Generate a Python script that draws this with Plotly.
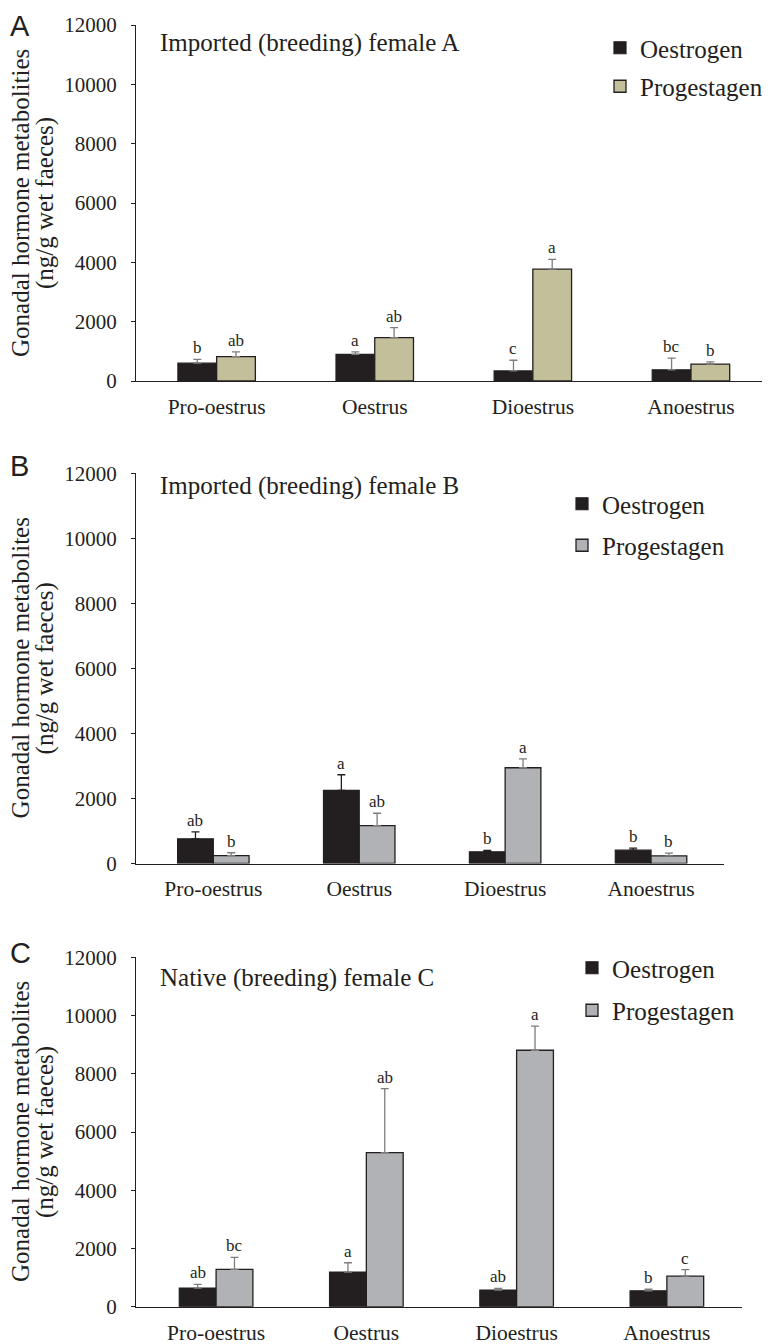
import plotly.graph_objects as go

# ---------------- data ----------------
stages = ["Pro-oestrus", "Oestrus", "Dioestrus", "Anoestrus"]
series_names = ["Oestrogen", "Progestagen"]

# Panel A: Imported (breeding) female A
a_oest = [600, 900, 340, 380]
a_oest_err = [130, 80, 360, 390]
a_prog = [820, 1460, 3770, 570]
a_prog_err = [160, 340, 330, 75]
a_oest_letters = ["b", "a", "c", "bc"]
a_prog_letters = ["ab", "ab", "a", "b"]

# Panel B: Imported (breeding) female B
b_oest = [760, 2250, 360, 410]
b_oest_err = [215, 480, 40, 60]
b_prog = [245, 1165, 2945, 236]
b_prog_err = [85, 380, 270, 80]
b_oest_letters = ["ab", "a", "b", "b"]
b_prog_letters = ["b", "ab", "a", "b"]

# Panel C: Native (breeding) female C
c_oest = [640, 1190, 573, 545]
c_oest_err = [130, 320, 57, 55]
c_prog = [1283, 5290, 8808, 1050]
c_prog_err = [412, 2200, 825, 220]
c_oest_letters = ["ab", "a", "ab", "b"]
c_prog_letters = ["bc", "ab", "a", "c"]

panel_titles = ["Imported (breeding) female A", "Imported (breeding) female B",
                "Native (breeding) female C"]
panel_letters = ["A", "B", "C"]
ytitle_line1 = ["Gonadal hormone metabolities", "Gonadal hormone metabolites",
                "Gonadal hormone metabolites"]
ytitle_line2 = "(ng/g wet faeces)"
y_ticks = [0, 2000, 4000, 6000, 8000, 10000, 12000]

# ---------------- style ----------------
OFF = 8                      # page body margin of the browser
W, H = 770 - OFF, 1344 - OFF
INK = "#231f20"
SERIF = "Liberation Serif"
SANS = "Liberation Sans"
TAN = "#c4bf9b"
GREY = "#b1b2b5"
ERRGREY = "#7d7d7d"
BW = 0.245


def fx(px):
    return (px - OFF) / W


def fy(px):
    return 1 - (px - OFF) / H


panels = [
    dict(oest=a_oest, oerr=a_oest_err, prog=a_prog, perr=a_prog_err,
         ol=a_oest_letters, pl=a_prog_letters, pcol=TAN, oerrcol=ERRGREY,
         xdom=[fx(136), fx(770)], xr=[-0.51, 3.5], ydom=[fy(381), fy(25)],
         leg=dict(x=fx(600), y=fy(25)), gap=3, title_y=43, letter_y=None),
    dict(oest=b_oest, oerr=b_oest_err, prog=b_prog, perr=b_prog_err,
         ol=b_oest_letters, pl=b_prog_letters, pcol=GREY, oerrcol=INK,
         xdom=[fx(136), fx(724)], xr=[-0.53, 3.5], ydom=[fy(863.5), fy(473.3)],
         leg=dict(x=fx(562), y=fy(481)), gap=6, title_y=486, letter_y=466),
    dict(oest=c_oest, oerr=c_oest_err, prog=c_prog, perr=c_prog_err,
         ol=c_oest_letters, pl=c_prog_letters, pcol=GREY, oerrcol=ERRGREY,
         xdom=[fx(136), fx(742)], xr=[-0.533, 3.5], ydom=[fy(1306.7), fy(957.3)],
         leg=dict(x=fx(572), y=fy(945)), gap=7, title_y=978, letter_y=953),
]

fig = go.Figure()
annotations = []
layout_axes = {}

for i, p in enumerate(panels):
    n = "" if i == 0 else str(i + 1)
    xa, ya = "x" + n, "y" + n
    legname = "legend" + n
    fig.add_trace(go.Bar(
        x=stages, y=p["oest"], width=BW, offset=-BW, name=series_names[0],
        xaxis=xa, yaxis=ya, legend=legname, legendgroup="o" + n,
        marker=dict(color=INK, line=dict(color=INK, width=1.2)),
        error_y=dict(type="data", array=p["oerr"], arrayminus=[0] * 4, symmetric=False,
                     color=p["oerrcol"], thickness=1.3, width=4),
    ))
    fig.add_trace(go.Bar(
        x=stages, y=p["prog"], width=BW, offset=0, name=series_names[1],
        xaxis=xa, yaxis=ya, legend=legname, legendgroup="p" + n,
        marker=dict(color=p["pcol"], line=dict(color=INK, width=1.3)),
        error_y=dict(type="data", array=p["perr"], arrayminus=[0] * 4, symmetric=False,
                     color=ERRGREY, thickness=1.3, width=4),
    ))
    layout_axes["xaxis" + n] = dict(
        domain=p["xdom"], range=p["xr"], anchor=ya, showline=True, linecolor=INK,
        linewidth=1.3, ticks="", showgrid=False, zeroline=False, type="category",
        tickfont=dict(family=SERIF, size=21.5, color=INK), ticklabelstandoff=6,
        fixedrange=True, automargin=False,
    )
    layout_axes["yaxis" + n] = dict(
        domain=p["ydom"], range=[0, 12000], anchor=xa, showline=True, linecolor=INK,
        linewidth=1.3, ticks="outside", ticklen=4, tickwidth=1.3, tickcolor=INK,
        tickvals=y_ticks, tickformat="d", showgrid=False, zeroline=False,
        tickfont=dict(family=SERIF, size=21, color=INK), ticklabelstandoff=10,
        fixedrange=True, automargin=False,
    )
    layout_axes[legname] = dict(
        x=p["leg"]["x"], y=p["leg"]["y"], xanchor="left", yanchor="top",
        font=dict(family=SERIF, size=25, color=INK), bgcolor="rgba(0,0,0,0)",
        tracegroupgap=p["gap"], itemclick=False,
    )
    # significance letters
    for j in range(4):
        annotations.append(dict(
            x=j - BW / 2, y=p["oest"][j] + p["oerr"][j], xref=xa, yref=ya,
            text=p["ol"][j], showarrow=False, yanchor="bottom", xanchor="center",
            font=dict(family=SERIF, size=17, color=INK), yshift=0))
        annotations.append(dict(
            x=j + BW / 2, y=p["prog"][j] + p["perr"][j], xref=xa, yref=ya,
            text=p["pl"][j], showarrow=False, yanchor="bottom", xanchor="center",
            font=dict(family=SERIF, size=17, color=INK), yshift=0))
    # panel title
    annotations.append(dict(
        x=fx(158), y=fy(p["title_y"]), xref="paper", yref="paper", text=panel_titles[i],
        showarrow=False, xanchor="left", yanchor="middle",
        font=dict(family=SERIF, size=25, color=INK)))
    # panel letter
    if p["letter_y"] is None:
        annotations.append(dict(
            x=0, y=1, xref="paper", yref="paper", text=panel_letters[i],
            showarrow=False, xanchor="left", yanchor="top",
            font=dict(family=SANS, size=29, color=INK)))
    else:
        annotations.append(dict(
            x=0, y=fy(p["letter_y"]), xref="paper", yref="paper", text=panel_letters[i],
            showarrow=False, xanchor="left", yanchor="middle",
            font=dict(family=SANS, size=29, color=INK)))
    # y titles (two lines)
    ymid = (p["ydom"][0] + p["ydom"][1]) / 2
    annotations.append(dict(
        x=fx(20), y=ymid, xref="paper", yref="paper", text=ytitle_line1[i],
        showarrow=False, textangle=-90, xanchor="center", yanchor="middle",
        font=dict(family=SERIF, size=25, color=INK)))
    annotations.append(dict(
        x=fx(45), y=ymid, xref="paper", yref="paper", text=ytitle_line2,
        showarrow=False, textangle=-90, xanchor="center", yanchor="middle",
        font=dict(family=SERIF, size=25, color=INK)))

fig.update_layout(
    template="none",
    width=W, height=H, margin=dict(l=0, r=0, t=0, b=0, pad=0, autoexpand=False),
    paper_bgcolor="white", plot_bgcolor="white",
    font=dict(family=SERIF, color=INK),
    barmode="group", showlegend=True, annotations=annotations,
    **layout_axes,
)

fig.write_html("out.html")
